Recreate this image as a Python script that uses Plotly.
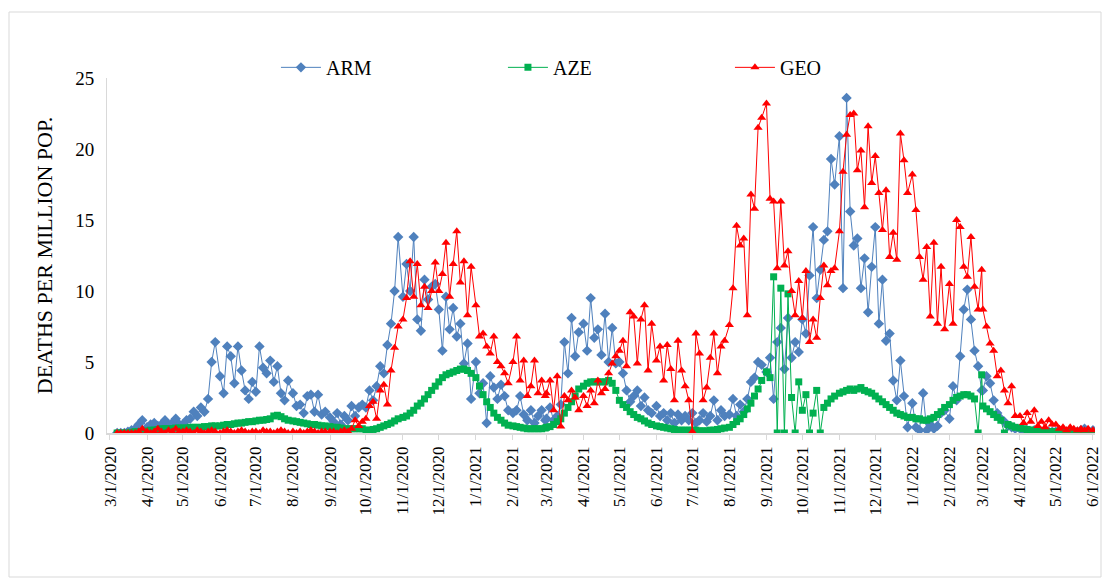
import plotly.graph_objects as go
from datetime import date

# ---------------- data ----------------
MONTHS = ["2020-03", "2020-04", "2020-05", "2020-06", "2020-07", "2020-08", "2020-09",
          "2020-10", "2020-11", "2020-12", "2021-01", "2021-02", "2021-03", "2021-04",
          "2021-05", "2021-06", "2021-07", "2021-08", "2021-09", "2021-10", "2021-11",
          "2021-12", "2022-01", "2022-02", "2022-03", "2022-04", "2022-05"]
DAYS = [1, 4, 7, 10, 13, 16, 19, 22, 25, 28]
END_DATE = "2022-06-01"

ARM = [
    [None, None, 0, 0, 0, 0.1, 0.2, 0.3, 0.6, 0.9],
    [0.4, 0.6, 0.7, 0.5, 0.6, 0.9, 0.5, 0.7, 1.0, 0.6],
    [0.6, 0.9, 1.0, 1.5, 1.2, 1.8, 1.5, 2.4, 5.0, 6.4],
    [4.0, 2.8, 6.1, 5.4, 3.5, 6.1, 4.4, 3.0, 2.4, 3.6],
    [2.9, 6.1, 4.6, 4.2, 5.1, 3.6, 4.7, 2.8, 2.3, 3.7],
    [2.8, 1.9, 2.0, 1.4, 2.6, 2.7, 1.5, 2.7, 1.3, 1.5],
    [1.1, 0.8, 1.4, 0.6, 1.2, 0.9, 1.9, 1.2, 1.8, 2.0],
    [1.8, 3.0, 2.3, 3.3, 4.7, 4.2, 6.2, 7.7, 10.0, 13.8],
    [9.6, 11.9, 10.0, 13.8, 8.0, 7.2, 10.8, 9.4, 10.3, 10.5],
    [8.7, 5.8, 9.6, 7.3, 8.8, 6.8, 7.7, 4.9, 6.3, 2.4],
    [5.0, 2.8, 3.5, 0.7, 4.0, 3.2, 2.4, 3.4, 2.6, 1.6],
    [1.4, 1.6, 2.6, 1.3, 0.9, 1.6, 0.7, 1.2, 1.6, 0.9],
    [1.0, 1.8, 0.9, 1.2, 2.0, 6.4, 4.2, 8.1, 5.4, 7.1],
    [7.7, 5.8, 9.5, 6.7, 7.3, 5.5, 8.4, 5.0, 7.4, 4.9],
    [5.0, 4.2, 3.0, 2.2, 2.6, 3.0, 1.9, 2.5, 1.6, 1.4],
    [1.9, 1.2, 1.4, 0.9, 1.4, 0.7, 1.3, 0.9, 1.2, 0.9],
    [1.4, 0.7, 0.9, 1.4, 0.8, 1.2, 2.3, 0.9, 1.6, 1.2],
    [1.3, 2.4, 1.2, 2.0, 1.5, 2.4, 3.6, 3.9, 5.0, 4.8],
    [4.3, 5.3, 2.4, 6.4, 7.4, 4.5, 8.1, 5.3, 6.4, 5.7],
    [8.0, 7.0, 11.1, 14.5, 9.5, 11.5, 13.6, 14.2, 19.3, 17.5],
    [20.9, 10.2, 23.6, 15.6, 13.2, 13.7, 10.2, 12.3, 8.5, 11.7],
    [14.5, 7.7, 10.8, 6.5, 7.0, 3.7, 2.3, 5.1, 2.6, 0.4],
    [2.1, 0.4, 0.2, 2.8, 0.2, 0.6, 0.3, 0.5, 1.4, 1.6],
    [1.0, 3.3, 2.3, 5.4, 8.7, 10.1, 8.0, 5.8, 4.7, 3.0],
    [3.0, 4.0, 3.5, 2.3, 1.4, 1.0, 0.8, 0.5, 0.4, 0.3],
    [0.3, 0.2, 0.2, 0.1, 0.2, 0.1, 0.1, 0.2, 0.1, 0.1],
    [0.1, 0.2, 0.1, 0.1, 0.2, 0.1, 0.1, 0.2, 0.3, 0.1],
]
ARM_END = 0.2

AZE = [
    [None, None, 0, 0, 0, 0, 0.05, 0.1, 0.1, 0.1],
    [0.15, 0.2, 0.2, 0.25, 0.3, 0.3, 0.3, 0.3, 0.35, 0.35],
    [0.35, 0.35, 0.4, 0.4, 0.4, 0.4, 0.45, 0.45, 0.5, 0.5],
    [0.5, 0.55, 0.6, 0.6, 0.65, 0.7, 0.7, 0.75, 0.8, 0.8],
    [0.85, 0.9, 0.9, 0.95, 1.0, 1.2, 1.25, 1.15, 1.0, 0.9],
    [0.85, 0.8, 0.75, 0.7, 0.65, 0.6, 0.6, 0.55, 0.5, 0.5],
    [0.45, 0.4, 0.4, 0.35, 0.3, 0.3, 0.3, 0.3, 0.3, 0.3],
    [0.2, 0.2, 0.25, 0.3, 0.4, 0.5, 0.6, 0.7, 0.85, 1.0],
    [1.1, 1.2, 1.4, 1.6, 1.9, 2.1, 2.4, 2.7, 3.0, 3.3],
    [3.6, 3.9, 4.1, 4.2, 4.3, 4.4, 4.5, 4.5, 4.4, 4.2],
    [3.9, 3.3, 2.7, 2.2, 1.8, 1.4, 1.1, 0.9, 0.7, 0.55],
    [0.5, 0.45, 0.4, 0.35, 0.3, 0.3, 0.3, 0.3, 0.3, 0.35],
    [0.4, 0.45, 0.6, 0.8, 1.0, 1.4, 1.8, 2.2, 2.6, 3.1],
    [3.3, 3.5, 3.6, 3.6, 3.6, 3.6, 3.6, 3.7, 3.5, 3.0],
    [2.3, 2.0, 1.8, 1.5, 1.3, 1.1, 1.0, 0.85, 0.7, 0.6],
    [0.5, 0.45, 0.4, 0.35, 0.3, 0.25, 0.2, 0.2, 0.2, 0.2],
    [0.2, 0.2, 0.15, 0.15, 0.15, 0.2, 0.2, 0.25, 0.3, 0.35],
    [0.4, 0.6, 0.8, 1.0, 1.3, 1.7, 2.1, 2.6, 3.1, 3.7],
    [4.3, 3.9, 11.0, 0, 10.2, 0, 9.8, 2.5, 0, 3.6],
    [1.6, 2.7, 0, 1.4, 3.0, 0, 1.8, 2.1, 2.4, 2.6],
    [2.8, 2.9, 3.0, 3.1, 3.0, 3.1, 3.2, 3.0, 2.9, 2.8],
    [2.6, 2.4, 2.2, 2.0, 1.8, 1.6, 1.4, 1.3, 1.2, 1.1],
    [1.1, 1.0, 1.0, 0.9, 0.9, 1.0, 1.1, 1.3, 1.5, 1.8],
    [2.0, 2.3, 2.5, 2.6, 2.7, 2.7, 2.6, 2.4, 0, 4.1],
    [1.9, 1.7, 1.5, 1.3, 1.1, 0.9, 0, 0.6, 0.5, 0.4],
    [0.35, 0.3, 0.25, 0.2, 0.2, 0.15, 0.1, 0.1, 0.1, 0.1],
    [0.1, 0.05, 0.05, 0.05, 0.05, 0.05, 0.05, 0.05, 0.05, 0.05],
]
AZE_END = 0.05

GEO = [
    [None, None, 0, 0, 0, 0, 0, 0, 0.1, 0.3],
    [0.1, 0, 0.1, 0.3, 0.1, 0, 0.2, 0.1, 0.3, 0.1],
    [0.1, 0.2, 0.1, 0, 0.2, 0.1, 0, 0.1, 0.2, 0.1],
    [0, 0.1, 0.2, 0.1, 0, 0.1, 0.2, 0.1, 0, 0.1],
    [0.1, 0, 0.2, 0.1, 0.1, 0, 0.1, 0.2, 0.1, 0],
    [0.1, 0, 0.1, 0, 0.1, 0.2, 0.1, 0, 0.1, 0.1],
    [0.1, 0.1, 0, 0.1, 0.2, 0.1, 0.3, 0.9, 0.5, 0.8],
    [1.0, 1.9, 2.2, 1.0, 3.0, 3.4, 2.0, 4.4, 6.0, 7.5],
    [8.0, 9.5, 12.1, 9.6, 11.9, 9.0, 10.3, 8.8, 10.0, 12.0],
    [10.0, 11.2, 13.4, 9.6, 11.9, 14.2, 10.6, 12.1, 8.3, 11.7],
    [9.0, 6.8, 7.0, 6.1, 5.6, 6.8, 5.0, 4.7, 4.2, 3.5],
    [5.0, 6.8, 3.7, 5.1, 2.6, 3.3, 5.1, 2.8, 3.7, 2.6],
    [2.8, 3.7, 1.6, 4.0, 0.45, 2.6, 2.3, 3.0, 2.5, 1.6],
    [2.6, 1.9, 3.0, 2.1, 3.7, 2.8, 3.1, 4.2, 4.9, 5.4],
    [5.8, 6.5, 4.7, 8.5, 8.2, 4.9, 8.0, 9.0, 4.4, 7.7],
    [5.1, 6.1, 3.7, 6.2, 4.5, 2.3, 6.5, 4.4, 3.3, 2.3],
    [0.1, 7.0, 5.6, 2.3, 3.2, 5.3, 7.0, 4.2, 6.1, 6.5],
    [7.6, 10.2, 14.6, 13.2, 13.7, 8.3, 16.8, 15.8, 21.5, 22.2],
    [23.2, 16.5, 16.3, 11.6, 16.3, 11.8, 12.8, 10.0, 8.3, 10.7],
    [8.1, 11.4, 6.4, 8.0, 6.7, 9.5, 11.8, 10.4, 11.4, 11.6],
    [14.2, 18.4, 21.0, 22.4, 22.5, 18.5, 19.9, 15.9, 21.6, 17.6],
    [19.5, 16.9, 14.3, 17.1, 12.4, 14.1, 12.2, 21.1, 19.2, 16.9],
    [18.2, 15.7, 12.4, 10.8, 13.1, 8.2, 13.4, 7.7, 11.7, 7.3],
    [10.5, 7.7, 15.0, 14.5, 11.7, 11.0, 13.8, 10.3, 8.7, 11.5],
    [8.7, 7.5, 6.3, 5.8, 4.0, 4.4, 3.0, 2.1, 3.3, 1.2],
    [1.2, 0.7, 1.4, 0.8, 1.6, 0.5, 0.8, 0.4, 0.9, 0.6],
    [0.6, 0.3, 0.4, 0.2, 0.4, 0.3, 0.2, 0.3, 0.2, 0.3],
]
GEO_END = 0.2

TICK_MONTHS = MONTHS + ["2022-06"]
Y_TICKS = [0, 5, 10, 15, 20, 25]
Y_TITLE = "DEATHS PER MILLION POP."


def build(series, end_val):
    xs, ys = [], []
    for m, vals in zip(MONTHS, series):
        yr, mo = map(int, m.split("-"))
        for d, v in zip(DAYS, vals):
            if v is None:
                continue
            xs.append(date(yr, mo, d).isoformat())
            ys.append(v)
    xs.append(END_DATE)
    ys.append(end_val)
    return xs, ys


FONT = "Liberation Serif, Times New Roman, serif"

fig = go.Figure()
for name, data, end, color, symbol, size in [
    ("ARM", ARM, ARM_END, "#4F81BD", "diamond", 8),
    ("AZE", AZE, AZE_END, "#00B050", "square", 7),
    ("GEO", GEO, GEO_END, "#FF0000", "triangle-up", 8),
]:
    xs, ys = build(data, end)
    fig.add_trace(go.Scatter(
        x=xs, y=ys, name=name, mode="lines+markers",
        line=dict(color=color, width=1),
        marker=dict(color=color, symbol=symbol, size=size, line=dict(width=0)),
    ))

tickvals = [f"{m}-01" for m in TICK_MONTHS]
ticktext = []
for m in TICK_MONTHS:
    yr, mo = map(int, m.split("-"))
    ticktext.append(f"{mo}/1/{yr}")

fig.update_layout(
    width=1110, height=586, autosize=False,
    margin=dict(l=107, r=15, t=78, b=153, autoexpand=False),
    paper_bgcolor="white", plot_bgcolor="white",
    font=dict(family=FONT, size=17, color="#000000"),
    showlegend=True,
    legend=dict(
        orientation="h", x=0.171, y=1.03, xanchor="left", yanchor="middle",
        font=dict(family=FONT, size=20, color="#000000"),
        itemwidth=40, entrywidth=172, entrywidthmode="pixels",
        bgcolor="rgba(0,0,0,0)",
    ),
    xaxis=dict(
        type="date", range=["2020-02-27 12:00", "2022-06-02 18:00"],
        tickmode="array", tickvals=tickvals, ticktext=ticktext,
        tickangle=-90, tickfont=dict(family=FONT, size=17, color="#000000"),
        showgrid=False, zeroline=False,
        showline=True, linecolor="#D9D9D9", linewidth=1.5,
        ticks="outside", ticklen=5, tickcolor="#D9D9D9", tickwidth=1,
    ),
    yaxis=dict(
        range=[0, 25], tickmode="array", tickvals=Y_TICKS,
        tickfont=dict(family=FONT, size=19, color="#000000"),
        showgrid=False, zeroline=False,
        showline=True, linecolor="#D9D9D9", linewidth=1,
        ticks="", ticklabelstandoff=8,
        title=dict(text=Y_TITLE, font=dict(family=FONT, size=22, color="#000000"), standoff=16),
    ),
    shapes=[dict(
        type="rect", xref="paper", yref="paper",
        x0=(9 - 107) / 988, x1=(1101 - 107) / 988,
        y0=(433 - 577) / 355, y1=(433 - 12) / 355,
        line=dict(color="#D9D9D9", width=1), fillcolor="rgba(0,0,0,0)", layer="below",
    )],
)

fig.write_html("out.html", config={"displayModeBar": False},
               post_script="document.body.style.margin='0';")
